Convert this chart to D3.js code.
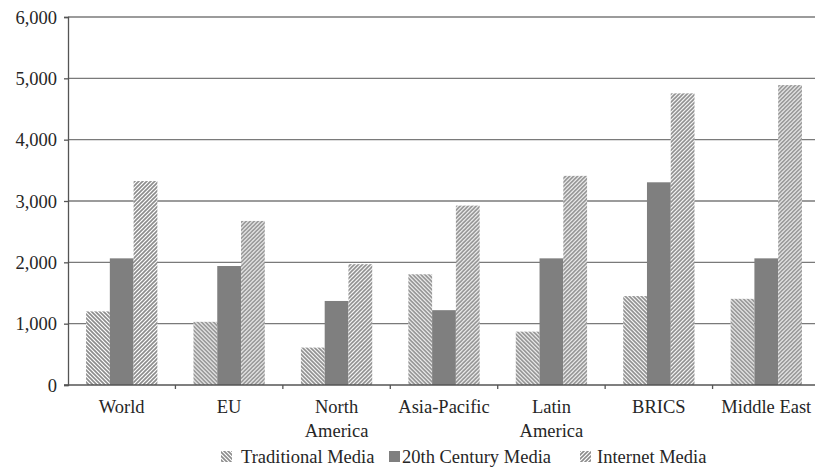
<!DOCTYPE html>
<html>
<head>
<meta charset="utf-8">
<script src="https://cdn.jsdelivr.net/npm/d3@7"></script>
<style>
  html, body { margin: 0; padding: 0; background: #fff; }
  svg { display: block; }
  text { font-family: "Liberation Serif", "DejaVu Serif", serif; fill: #262626; }
</style>
</head>
<body>
<svg id="chart" width="815" height="468"></svg>
<script>
// Regions along the x axis (multi-line labels split on "\n")
const categories = ["World", "EU", "North\nAmerica", "Asia-Pacific", "Latin\nAmerica", "BRICS", "Middle East"];
const seriesNames = ["Traditional Media", "20th Century Media", "Internet Media"];
const traditional = [1200, 1030, 610, 1805, 870, 1450, 1405];
const century20 = [2065, 1940, 1370, 1220, 2065, 3305, 2065];
const internet = [3325, 2675, 1970, 2925, 3410, 4755, 4890];
const yTicks = [0, 1000, 2000, 3000, 4000, 5000, 6000];

const seriesValues = [traditional, century20, internet];
const fills = ["url(#hatchBack)", "#7f7f7f", "url(#hatchFwd)"];

const svg = d3.select("#chart");
const margin = { left: 68, right: -5, top: 17, bottom: 83 };
const W = 815, H = 468;
const FS = 18.5;

const x = d3.scaleBand()
  .domain(categories)
  .range([margin.left, W - margin.right])
  .paddingInner(0)
  .paddingOuter(0);
const x1 = d3.scaleBand()
  .domain(seriesNames)
  .range([0, x.bandwidth()])
  .paddingOuter(0.76)
  .paddingInner(0);
const y = d3.scaleLinear().domain([0, 6000]).range([H - margin.bottom, margin.top]);

// Hatch patterns
const defs = svg.append("defs");
function hatch(id, dir) {
  const p = defs.append("pattern")
    .attr("id", id)
    .attr("patternUnits", "userSpaceOnUse")
    .attr("width", 4).attr("height", 4);
  p.append("rect").attr("width", 4).attr("height", 4).attr("fill", "#fff");
  const d = dir > 0
    ? "M-1,1 l2,-2 M0,4 l4,-4 M3,5 l2,-2"
    : "M-1,3 l2,2 M0,0 l4,4 M3,-1 l2,2";
  p.append("path").attr("d", d).attr("stroke", "#8c8c8c").attr("stroke-width", 1.6);
}
hatch("hatchBack", -1);
hatch("hatchFwd", 1);

// Horizontal gridlines
svg.append("g")
  .selectAll("line")
  .data(yTicks.slice(1))
  .join("line")
  .attr("x1", margin.left).attr("x2", W)
  .attr("y1", d => y(d)).attr("y2", d => y(d))
  .attr("stroke", "#7a7a7a").attr("stroke-width", 1.3);

// Bars
const groups = svg.append("g")
  .selectAll("g")
  .data(categories)
  .join("g")
  .attr("transform", d => `translate(${x(d)},0)`);
groups.selectAll("rect")
  .data((c, i) => seriesNames.map((s, k) => ({ s, k, v: seriesValues[k][i] })))
  .join("rect")
  .attr("x", d => x1(d.s))
  .attr("width", x1.bandwidth())
  .attr("y", d => y(d.v))
  .attr("height", d => y(0) - y(d.v))
  .attr("fill", d => fills[d.k]);

// Y axis
const yAxis = svg.append("g")
  .attr("transform", `translate(${margin.left},0)`)
  .call(d3.axisLeft(y).tickValues(yTicks).tickFormat(d3.format(",")).tickSize(4).tickPadding(7));
yAxis.select(".domain").attr("stroke", "#555").attr("stroke-width", 1.3);
yAxis.selectAll(".tick line").attr("stroke", "#555").attr("stroke-width", 1.3);
yAxis.selectAll("text").attr("font-size", FS).attr("fill", "#262626").attr("dy", "0.34em");

// X axis with ticks between the categories
const xAxis = svg.append("g")
  .attr("transform", `translate(0,${y(0)})`);
xAxis.append("line")
  .attr("x1", margin.left - 4).attr("x2", W)
  .attr("stroke", "#555").attr("stroke-width", 1.3);
xAxis.selectAll("line.tk")
  .data(categories.slice(1))
  .join("line")
  .attr("class", "tk")
  .attr("x1", d => x(d)).attr("x2", d => x(d))
  .attr("y1", 0).attr("y2", 4)
  .attr("stroke", "#555").attr("stroke-width", 1.3);
xAxis.selectAll("text.cat")
  .data(categories)
  .join("text")
  .attr("class", "cat")
  .attr("text-anchor", "middle")
  .attr("font-size", FS)
  .each(function (d) {
    d.split("\n").forEach((line, i) => {
      d3.select(this).append("tspan")
        .attr("x", x(d) + x.bandwidth() / 2)
        .attr("y", 28 + i * 24)
        .text(line);
    });
  });

// Legend
const legendItems = [
  { name: seriesNames[0], fill: fills[0], x: 221, tx: 241 },
  { name: seriesNames[1], fill: fills[1], x: 389, tx: 402 },
  { name: seriesNames[2], fill: fills[2], x: 580, tx: 597 }
];
const legend = svg.append("g").attr("transform", "translate(0,451)");
legend.selectAll("rect")
  .data(legendItems)
  .join("rect")
  .attr("x", d => d.x).attr("y", 0)
  .attr("width", 11).attr("height", 11)
  .attr("fill", d => d.fill);
legend.selectAll("text")
  .data(legendItems)
  .join("text")
  .attr("x", d => d.tx)
  .attr("y", 12)
  .attr("font-size", FS)
  .text(d => d.name);
</script>
</body>
</html>
